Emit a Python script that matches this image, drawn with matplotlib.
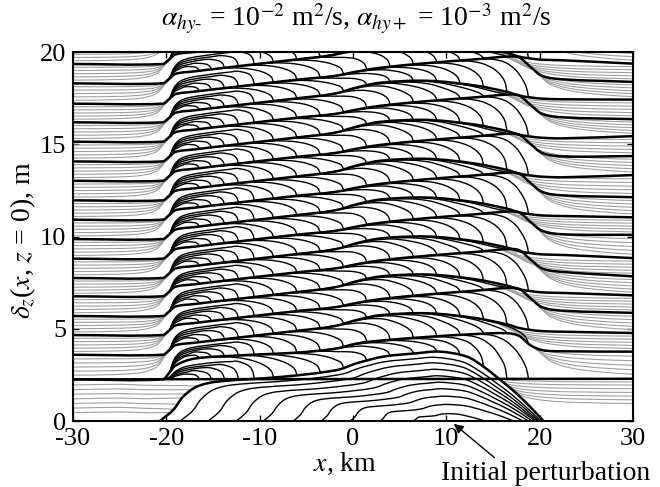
import numpy as np
import matplotlib
matplotlib.use('Agg')
import matplotlib.pyplot as plt
from matplotlib.path import Path
from matplotlib.patches import PathPatch

plt.rcParams['font.family'] = ['Liberation Serif', 'DejaVu Serif']
plt.rcParams['mathtext.fontset'] = 'stix'
plt.rcParams['axes.unicode_minus'] = False

# --- data ----------------------------------------------------------------
# thick profiles: level at the left edge and at the right edge (x = -30 / 30)
# (last entry is above the frame, it only closes the top band)
left_levels = [2.26, 3.59, 4.66, 5.69, 6.76, 7.75, 8.80, 9.86, 10.91, 11.96,
               13.02, 14.07, 15.14, 16.19, 17.20, 18.30, 19.35, 20.40]
right_levels = [3.76, 4.77, 5.86, 6.81, 7.84, 8.83, 10.09, 11.04, 12.13, 13.33,
                14.36, 15.44, 16.36, 17.42, 18.38, 19.37, 20.50, 21.55]
profile_kind = ['first', 'round', 'sharp', 'round', 'sharp', 'round', 'sharp', 'round',
                'sharp', 'round', 'sharp', 'round', 'sharp', 'round', 'sharp', 'round',
                'sharp', 'round']
flat_level = [2.26, 2.29]

# profile shapes above the left level (last value replaced by right level)
knot_x = [-30, -20.4, -19.7, -19.0, -17, -12, -6, -2, 0.5, 3, 8, 13, 16.5, 17.8, 19.0, 20.3, 22.5, 30]
first_dy = [0, 0, 0.35, 0.75, 1.12, 1.30, 1.45, 1.65, 1.95, 2.10, 2.30, 2.45, 2.50, 2.35, 1.85, 1.58, 1.52, 0]
sharp_dy = [0, 0, 0.25, 0.52, 0.65, 0.95, 1.30, 1.50, 1.75, 1.95, 2.20, 2.40, 2.55, 2.50, 2.00, 1.50, 1.32, 0]
round_dy = [0, 0, 0.25, 0.52, 0.65, 0.95, 1.30, 1.55, 1.90, 2.15, 2.25, 2.00, 1.65, 1.45, 1.35, 1.28, 1.25, 0]

# outline of the initial perturbation
bump_x = [-20.7, -19.26, -18.2, -16.75, -14.6, -7.5, -1.75, 0.4, 3.25, 6.8, 9.3, 12.2, 14.0, 15.8, 17.5, 19.3, 20.4]
bump_y = [0.0, 0.6, 1.32, 1.86, 2.13, 2.40, 2.76, 3.13, 3.49, 3.67, 3.76, 3.49, 2.94, 2.22, 1.50, 0.60, 0.0]

# inner contours of the perturbation: left foot, top position, right foot, height
contour_a = [-18.5, -15.5, -12.5, -9.6, -6.4, -3.4, -0.3, 2.9, 6.5]
contour_p = [8.8, 8.8, 9.0, 9.2, 9.4, 9.6, 9.8, 10.0, 10.2]
contour_b = [20.1, 19.9, 19.7, 19.5, 19.2, 18.8, 18.2, 17.2, 14.1]
contour_h = [3.45, 3.15, 2.80, 2.45, 2.10, 1.75, 1.35, 0.90, 0.40]

# thin black hooks next to the step: end position and relative height
hook_end = [-16.5, -15.2, -13.8, -12.3, -10.6]
hook_frac = [0.30, 0.42, 0.54, 0.65, 0.76]
# thin black arcs leaving the upper profile and ending on the lower one
peel_end = [-8.5, -6.0, -3.5, -1.0, 1.5, 4.0, 6.5, 9.0, 11.5, 14.0, 16.5, 18.8]
peel_span = [6.5, 6.5, 7.0, 7.0, 7.0, 7.0, 7.0, 7.0, 7.0, 6.5, 6.0, 5.5]

# gray lines below the flat line
bottom_gray_h = [0.45, 0.70, 0.95, 1.20, 1.45, 1.70, 1.95]
bottom_gray_end = [-19.6, -19.2, -18.8, -18.3, -17.8, -17.2, -16.4]
bottom_right_end = [0.95, 1.15, 1.35, 1.55, 1.75, 1.95, 2.12]
bottom_right_start = [17.4, 17.1, 16.8, 16.5, 16.2, 15.9, 15.6]
gray_frac = [1/6, 2/6, 3/6, 4/6, 5/6]

YS = 1.98  # y stretch so smoothing works in screen-like units
FS = 20


def smooth(ax, xs, ys, **kw):
    pts = np.column_stack([np.asarray(xs, float), np.asarray(ys, float) * YS])
    n = len(pts)
    verts = [pts[0]]
    codes = [Path.MOVETO]
    for i in range(n - 1):
        p0, p1, p2, p3 = pts[max(i - 1, 0)], pts[i], pts[i + 1], pts[min(i + 2, n - 1)]
        seg = np.hypot(*(p2 - p1))
        d1 = p2 - p0
        d1 = d1 / (np.hypot(*d1) + 1e-9)
        d2 = p3 - p1
        d2 = d2 / (np.hypot(*d2) + 1e-9)
        verts += [p1 + d1 * seg / 3, p2 - d2 * seg / 3, p2]
        codes += [Path.CURVE4] * 3
    verts = np.array(verts)
    verts[:, 1] /= YS
    ax.add_patch(PathPatch(Path(verts, codes), fill=False, capstyle='round',
                           joinstyle='round', **kw))


fig = plt.figure(figsize=(6.6, 4.87), dpi=100)
ax = fig.add_axes([0.1106, 0.1355, 0.8485, 0.7577])
ax.set_xlim(-30, 30)
ax.set_ylim(0, 20)

THICK = dict(color='black', lw=1.8, zorder=4)
THIN = dict(color='black', lw=1.0, zorder=3)
GRAY = dict(color='#a0a0a0', lw=0.8, zorder=2)

# thick profiles
templates = {'first': first_dy, 'sharp': sharp_dy, 'round': round_dy}
profiles = []
for L, R, kind in zip(left_levels, right_levels, profile_kind):
    ys = [L + d for d in templates[kind]]
    ys[-1] = R
    profiles.append(np.array(ys))


def prof_fn(k):
    return lambda x: np.interp(x, knot_x, profiles[k])


flat_fn = lambda x: np.interp(x, [-30, 30], flat_level)
bump_fn = lambda x: np.interp(x, bump_x, bump_y, left=0, right=0)
band0_lo = lambda x: max(flat_fn(x), bump_fn(x))

# quarter-ellipse fall of a peeling arc
ELL_U = [0.0, 0.3, 0.55, 0.75, 0.88, 0.96, 1.0]
ELL_C = [1.0, 0.954, 0.835, 0.661, 0.475, 0.28, 0.0]


def draw_arcs(lo, up, x0):
    def pt(x, c):
        l = lo(x)
        return x, l + c * max(up(x) - l, 0.0)

    for e, f in zip(hook_end, hook_frac):
        w = min(1.8, (e - x0) * 0.45)
        pts = [pt(x0, 0.03)]
        for dx, c in [(0.45, 0.5), (1.1, 0.8), (2.2, 0.95)]:
            if x0 + dx < e - w - 0.3:
                pts.append(pt(x0 + dx, c * f))
        for xm in [-15, -13]:
            if x0 + 2.6 < xm < e - w - 0.4:
                pts.append(pt(xm, f))
        pts += [pt(e - w, f), pt(e - 0.29 * w, 0.71 * f), pt(e - 0.06 * w, 0.34 * f), pt(e, 0.0)]
        smooth(ax, [p[0] for p in pts], [p[1] for p in pts], **THIN)

    for e, span in zip(peel_end, peel_span):
        if up(e - 1.0) - lo(e - 1.0) < 0.12:
            continue
        xs0 = max(e - span, x0 + 0.6)
        pts = [pt(xs0 + u * (e - xs0), c) for u, c in zip(ELL_U, ELL_C)]
        smooth(ax, [p[0] for p in pts], [p[1] for p in pts], **THIN)


# arcs: band under the first profile, then between successive profiles
draw_arcs(band0_lo, prof_fn(0), -20.0)
for k in range(len(profiles) - 1):
    draw_arcs(prof_fn(k), prof_fn(k + 1), -19.6)

# gray lines on the left converging into the step of the upper profile
for k in range(len(left_levels) - 1):
    lo_l, up_l = left_levels[k], left_levels[k + 1]
    for t in gray_frac:
        h = lo_l + t * (up_l - lo_l)
        d = up_l - h
        smooth(ax, [-30, -25, -22.5, -21, -20.0, -19.5],
               [h, h + 0.04 * d, h + 0.15 * d, h + 0.42 * d, up_l + 0.05, up_l + 0.3], **GRAY)

# gray fans on the right leaving the drop of the upper profile
right_all = [flat_level[1]] + right_levels
for k in range(len(profiles)):
    r_lo, r_up = right_all[k], right_all[k + 1]
    upf = prof_fn(k)
    for j, t in enumerate(gray_frac[::-1]):
        if profile_kind[k] == 'round':
            xs0 = 15.5 + 0.4 * j
        else:
            xs0 = 18.8 + 0.25 * j
        ys0 = upf(xs0) - 0.03
        ye = r_lo + t * (r_up - r_lo)
        dv = ys0 - ye
        smooth(ax, [xs0, xs0 + 1.2, xs0 + 3.5, xs0 + 7, 30],
               [ys0, ys0 - 0.45 * dv, ye + 0.25 * dv, ye + 0.08 * dv, ye], **GRAY)

# gray lines under the flat line
for h, xe in zip(bottom_gray_h, bottom_gray_end):
    ye = bump_fn(xe)
    smooth(ax, [-30, -25, -22.5, -21, xe], [h, h + 0.04, h + 0.15 * (ye - h), h + 0.4 * (ye - h), ye], **GRAY)
for xs0, ye in zip(bottom_right_start, bottom_right_end):
    ys0 = bump_fn(xs0)
    dv = ys0 - ye
    smooth(ax, [xs0, xs0 + 1.2, xs0 + 3.5, xs0 + 7, 30],
           [ys0, ys0 - 0.45 * dv, ye + 0.25 * dv, ye + 0.08 * dv, ye], **GRAY)

# inner contours of the perturbation
for a, p, b, H in zip(contour_a, contour_p, contour_b, contour_h):
    cx, cy = [], []
    for xk, yk in zip(bump_x, bump_y):
        if xk <= 9.3:
            cx.append(a + (xk + 20.7) / 30.0 * (p - a))
        else:
            cx.append(p + (xk - 9.3) / 11.1 * (b - p))
        cy.append(yk * H / 3.76)
    smooth(ax, cx, cy, **THIN)

# thick lines
smooth(ax, [-30, 30], flat_level, **THICK)
smooth(ax, bump_x, bump_y, **THICK)
for ys in profiles:
    smooth(ax, knot_x, ys, **THICK)

for s in ax.spines.values():
    s.set_linewidth(1.5)
ax.set_xticks([-30, -20, -10, 0, 10, 20, 30])
ax.set_yticks([0, 5, 10, 15, 20])
ax.tick_params(direction='in', length=4, width=1, top=True, right=True, labelsize=19)
ax.tick_params(axis='x', pad=5)
ax.tick_params(axis='y', pad=5)

fig.text(356 / 660, 1 - 19 / 487,
         r'$\alpha_{hy\text{-}}$ = 10$^{-2}$ m$^2$/s, $\alpha_{hy+}$ = 10$^{-3}$ m$^2$/s',
         ha='center', va='center', fontsize=FS)
fig.text(345 / 660, 1 - 464 / 487, r'$x$, km', ha='center', va='center', fontsize=FS)
fig.text(23 / 660, 1 - 240 / 487, r'$\delta_z$($x$, $z$ = 0), m', ha='center', va='center',
         fontsize=FS, rotation=90)

ax.annotate('Initial perturbation', xy=(10.8, -0.15), xycoords='data',
            xytext=(546 / 660, 1 - 473 / 487), textcoords='figure fraction',
            ha='center', va='center', fontsize=FS, annotation_clip=False,
            arrowprops=dict(arrowstyle='-|>', color='black', lw=1.0, mutation_scale=14,
                            shrinkA=0, shrinkB=0, relpos=(0.27, 1.0)))

fig.savefig('out.png', dpi=100)
